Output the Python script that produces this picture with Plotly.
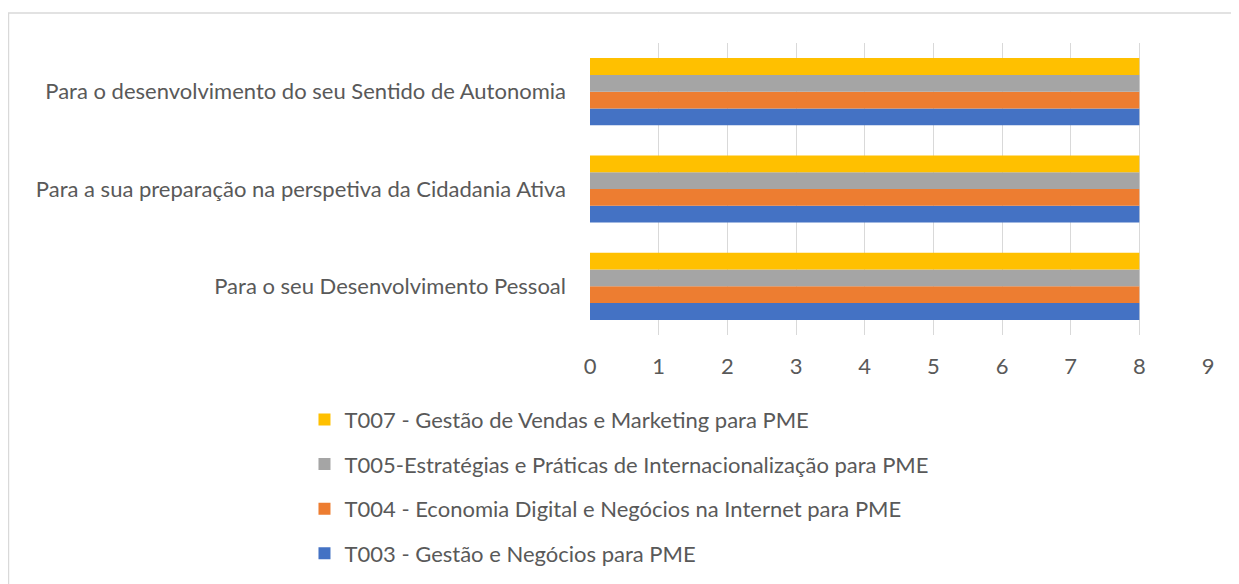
import plotly.graph_objects as go

categories = [
    "Para o seu Desenvolvimento Pessoal",
    "Para a sua preparação na perspetiva da Cidadania Ativa",
    "Para o desenvolvimento do seu Sentido de Autonomia",
]
series_names = [
    "T003 - Gestão e Negócios para PME",
    "T004 - Economia Digital e Negócios na Internet para PME",
    "T005-Estratégias e Práticas de Internacionalização para PME",
    "T007 - Gestão de Vendas e Marketing para PME",
]
t003 = [8, 8, 8]
t004 = [8, 8, 8]
t005 = [8, 8, 8]
t007 = [8, 8, 8]
x_ticks = [0, 1, 2, 3, 4, 5, 6, 7, 8, 9]

colors = ["#4472C4", "#ED7D31", "#A5A5A5", "#FFC000"]
values = [t003, t004, t005, t007]

FONT = "Lato"
TXT = "#595959"
FS = 22

fig = go.Figure()
n = len(series_names)
for i, (name, vals, col) in enumerate(zip(series_names, values, colors)):
    fig.add_trace(go.Bar(
        y=categories, x=vals, name=name, orientation="h",
        marker=dict(color=col, line=dict(width=0)),
        legendgroup=name, legendrank=1000 + (n - i),
    ))

fig.update_layout(
    width=1239, height=584,
    barmode="group", bargap=0.31, bargroupgap=0,
    plot_bgcolor="white", paper_bgcolor="white",
    margin=dict(l=582, r=39, t=35, b=257),
    font=dict(family=FONT, size=FS, color=TXT),
    showlegend=True,
    legend=dict(
        traceorder="grouped", orientation="v",
        x=-0.462, xanchor="left", y=-0.218, yanchor="top",
        font=dict(family=FONT, size=FS, color=TXT),
        tracegroupgap=13, itemwidth=30,
        bgcolor="rgba(0,0,0,0)",
    ),
    xaxis=dict(
        range=[0, 9], tickvals=x_ticks, showgrid=True, gridcolor="#D9D9D9",
        gridwidth=1, zeroline=False, showline=False,
        tickfont=dict(family=FONT, size=FS, color=TXT),
        ticklabelstandoff=16, fixedrange=True,
    ),
    yaxis=dict(
        categoryorder="array", categoryarray=categories,
        showgrid=False, zeroline=False, showline=False,
        tickfont=dict(family=FONT, size=FS, color=TXT),
        ticklabelstandoff=23, fixedrange=True,
    ),
    shapes=[dict(
        type="rect", xref="paper", yref="paper",
        x0=-0.941, x1=1.1, y0=-1.5, y1=1.1027,
        line=dict(color="#D9D9D9", width=1.5), fillcolor="rgba(0,0,0,0)",
        layer="below",
    )],
)

fig.write_html("out.html")
